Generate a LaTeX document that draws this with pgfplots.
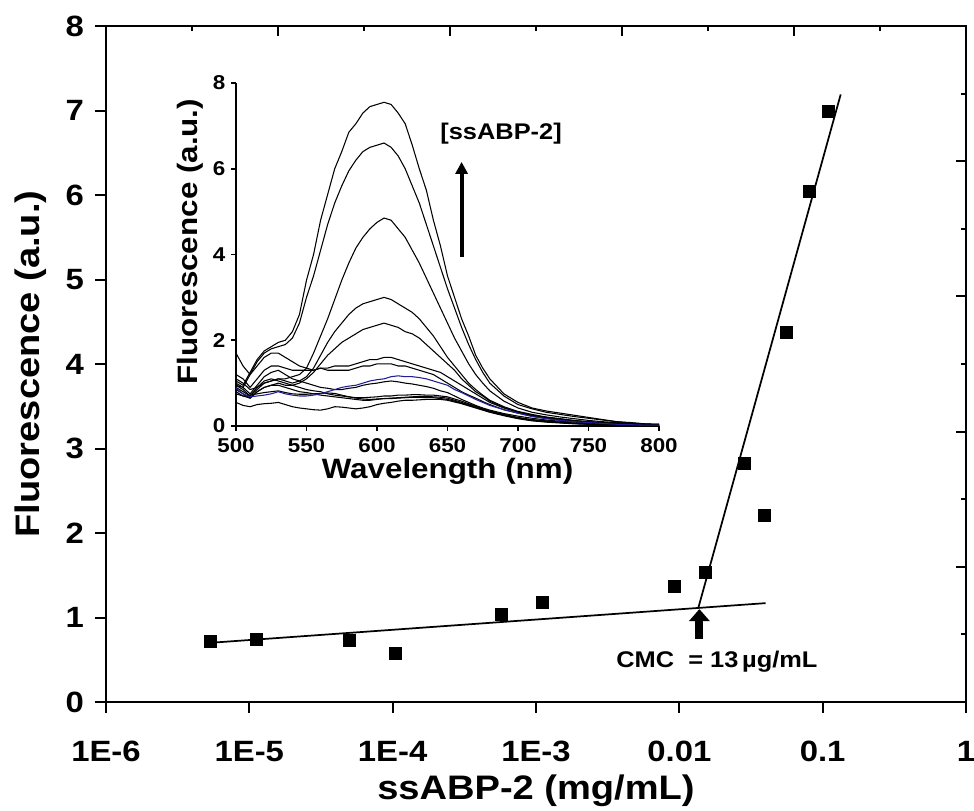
\documentclass[border=0pt]{standalone}
\usepackage{fontspec}
\setmainfont{Liberation Sans}[FakeStretch=1.12]
\usepackage{pgfplots}
\pgfplotsset{compat=1.18}
\usepackage{pgfplotstable}
\usetikzlibrary{arrows.meta}

\pgfplotstableread{
x y
5.3e-6 0.72
1.11e-5 0.74
5.0e-5 0.73
1.04e-4 0.58
5.76e-4 1.04
1.10e-3 1.18
9.2e-3 1.37
1.52e-2 1.53
2.86e-2 2.82
3.94e-2 2.21
5.56e-2 4.38
8.08e-2 6.05
1.10e-1 6.99
}\cmcdata

\pgfplotstableread{
wl c1 c2 c3 c4 c5 c6 c7 c8 c9 c10 c11 c12 blue
500 1.05 0.95 1.1 0.9 0.8 1.7 1.2 1.0 0.95 0.85 0.75 0.55 0.88
505 0.95 0.9 1.0 0.8 0.7 1.4 1.1 0.9 0.85 0.75 0.7 0.48 0.75
510 1.25 1.2 0.85 0.7 0.65 1.2 0.9 0.75 0.7 0.65 0.72 0.45 0.68
515 1.55 1.5 0.9 0.85 0.8 1.4 1.1 0.95 0.9 0.8 0.75 0.5 0.7
520 1.75 1.7 1.0 1.0 0.9 1.6 1.3 1.15 1.05 0.9 0.78 0.52 0.72
525 1.85 1.8 1.05 1.05 0.95 1.7 1.4 1.25 1.1 0.95 0.8 0.53 0.75
530 1.95 1.85 1.1 1.1 1.0 1.7 1.4 1.3 1.05 0.95 0.82 0.55 0.8
535 2.0 1.9 1.1 1.05 0.95 1.6 1.35 1.2 1.0 0.9 0.78 0.5 0.75
540 2.2 2.05 1.15 1.0 0.95 1.5 1.3 1.1 0.95 0.85 0.75 0.45 0.72
545 2.6 2.4 1.2 1.05 1.0 1.4 1.3 1.05 0.9 0.8 0.74 0.42 0.7
550 3.4 3.0 1.35 1.15 1.1 1.35 1.3 1.0 0.85 0.78 0.74 0.4 0.7
555 4.0 3.5 1.7 1.35 1.25 1.3 1.3 0.95 0.82 0.75 0.75 0.38 0.72
560 4.8 4.1 2.1 1.65 1.45 1.35 1.35 0.9 0.8 0.72 0.76 0.37 0.75
565 5.4 4.7 2.5 1.95 1.65 1.35 1.3 0.88 0.75 0.7 0.77 0.4 0.8
570 6.0 5.2 2.95 2.2 1.8 1.4 1.3 0.85 0.72 0.68 0.76 0.45 0.85
575 6.4 5.6 3.4 2.4 1.95 1.4 1.3 0.85 0.7 0.66 0.72 0.44 0.9
580 6.85 5.95 3.8 2.6 2.05 1.4 1.3 0.88 0.68 0.64 0.68 0.42 0.93
585 7.05 6.2 4.15 2.75 2.15 1.45 1.35 0.9 0.66 0.62 0.65 0.4 0.95
590 7.3 6.4 4.4 2.85 2.25 1.5 1.4 0.95 0.66 0.6 0.63 0.42 1.0
595 7.45 6.5 4.6 2.9 2.3 1.55 1.4 0.98 0.67 0.6 0.62 0.45 1.05
600 7.5 6.55 4.75 2.95 2.35 1.55 1.45 1.0 0.68 0.62 0.63 0.5 1.08
605 7.55 6.6 4.85 3.0 2.4 1.6 1.45 1.03 0.7 0.64 0.64 0.53 1.1
610 7.5 6.5 4.8 2.95 2.35 1.6 1.45 1.05 0.7 0.65 0.64 0.55 1.15
615 7.3 6.3 4.6 2.85 2.3 1.55 1.4 1.03 0.72 0.66 0.65 0.58 1.17
620 7.05 6.0 4.4 2.75 2.2 1.5 1.4 1.0 0.72 0.67 0.66 0.6 1.15
625 6.55 5.6 4.1 2.65 2.15 1.45 1.35 0.98 0.73 0.68 0.67 0.6 1.15
630 6.0 5.2 3.8 2.5 2.05 1.4 1.3 0.95 0.73 0.69 0.67 0.61 1.13
635 5.5 4.7 3.45 2.3 1.9 1.35 1.25 0.92 0.72 0.69 0.66 0.62 1.1
640 4.8 4.2 3.1 2.1 1.75 1.3 1.2 0.88 0.72 0.68 0.66 0.62 1.05
645 4.2 3.7 2.75 1.85 1.6 1.25 1.1 0.82 0.7 0.67 0.64 0.62 1.0
650 3.5 3.2 2.4 1.6 1.45 1.15 1.0 0.78 0.68 0.65 0.62 0.6 0.95
655 3.0 2.75 2.05 1.4 1.3 1.05 0.9 0.7 0.63 0.6 0.58 0.56 0.85
660 2.5 2.3 1.75 1.2 1.1 0.95 0.8 0.62 0.58 0.55 0.53 0.52 0.78
665 2.1 1.9 1.45 1.0 0.95 0.85 0.72 0.55 0.52 0.5 0.48 0.47 0.7
670 1.65 1.55 1.2 0.85 0.8 0.75 0.65 0.48 0.46 0.45 0.43 0.42 0.62
675 1.35 1.25 1.0 0.72 0.7 0.65 0.57 0.42 0.4 0.39 0.38 0.37 0.55
680 1.1 1.0 0.82 0.6 0.58 0.55 0.5 0.37 0.35 0.34 0.33 0.32 0.48
690 0.75 0.7 0.58 0.45 0.43 0.42 0.38 0.29 0.27 0.26 0.25 0.24 0.38
700 0.55 0.5 0.42 0.34 0.32 0.32 0.3 0.23 0.2 0.19 0.18 0.17 0.3
710 0.42 0.4 0.32 0.27 0.25 0.25 0.23 0.18 0.15 0.14 0.13 0.12 0.22
720 0.35 0.32 0.26 0.21 0.2 0.2 0.18 0.14 0.12 0.11 0.1 0.09 0.17
730 0.3 0.27 0.21 0.17 0.16 0.16 0.14 0.11 0.09 0.08 0.08 0.07 0.13
740 0.25 0.22 0.17 0.13 0.12 0.12 0.11 0.09 0.07 0.06 0.06 0.05 0.1
750 0.2 0.18 0.13 0.1 0.09 0.1 0.09 0.07 0.05 0.05 0.04 0.04 0.08
760 0.15 0.14 0.1 0.08 0.07 0.08 0.07 0.05 0.04 0.04 0.03 0.03 0.06
770 0.1 0.1 0.08 0.06 0.05 0.06 0.05 0.04 0.03 0.03 0.02 0.02 0.04
780 0.08 0.07 0.06 0.04 0.04 0.04 0.04 0.03 0.02 0.02 0.02 0.02 0.03
790 0.05 0.05 0.04 0.03 0.03 0.03 0.03 0.02 0.02 0.01 0.01 0.01 0.02
800 0.04 0.04 0.03 0.02 0.02 0.02 0.02 0.02 0.01 0.01 0.01 0.01 0.02
}\spectra

\begin{document}
\begin{tikzpicture}[x=1pt,y=1pt]
\path[use as bounding box] (-79.5pt,-81pt) rectangle (651pt,526.5pt);

% ---------- main axis ----------
\begin{axis}[at={(0pt,0pt)}, anchor=south west, scale only axis,
  width=645pt, height=507pt,
  xmode=log, xmin=1e-6, xmax=1, ymin=0, ymax=8,
  xtick={1e-6,1e-5,1e-4,1e-3,1e-2,1e-1,1},
  xticklabels={1E-6,1E-5,1E-4,1E-3,0.01,0.1,1},
  ytick={0,1,2,3,4,5,6,7,8},
  yticklabels={0,1,2,3,4,5,6,7,8},
  xminorticks=false, yminorticks=false,
  tick align=outside, major tick length=8pt,
  xtick pos=left, ytick pos=left,
  axis line style={line width=1.5pt},
  tick style={line width=1.5pt, black},
  ticklabel style={font=\bfseries\fontsize{22}{22}\selectfont},
  xticklabel style={yshift=-18pt},
  yticklabel style={xshift=-5pt},
  xlabel={ssABP-2 (mg/mL)}, ylabel={Fluorescence (a.u.)},
  label style={font=\bfseries\fontsize{25.5}{26}\selectfont},
  xlabel style={at={(axis description cs:0.5,-0.131)}, anchor=center},
  ylabel style={at={(axis description cs:-0.088,0.5)}, anchor=center},
  clip=false]
\addplot[black, line width=1.3pt] coordinates {(5.3e-6,0.70) (0.040,1.17)};
\addplot[black, line width=1.3pt] coordinates {(0.01355,1.11) (0.1336,7.19)};
\addplot[only marks, mark=square*, mark size=4.5pt, black] table[x=x,y=y] {\cmcdata};
\draw[line width=6pt, -{Triangle[width=15pt,length=9pt]}] (axis cs:0.0138,0.75) -- (axis cs:0.0138,1.10);
\node[font=\bfseries\fontsize{17}{17}\selectfont] at (axis cs:0.01829,0.48) {CMC\ \ = 13\,µg/mL};
\end{axis}

% minor ticks inside (bottom/left)
\begin{axis}[at={(0pt,0pt)}, anchor=south west, scale only axis,
  width=645pt, height=507pt,
  xmode=log, xmin=1e-6, xmax=1, ymin=0, ymax=8,
  axis line style={draw=none},
  xtick=\empty, ytick=\empty,
  minor xtick={2e-6,3e-6,4e-6,5e-6,6e-6,7e-6,8e-6,9e-6,
    2e-5,3e-5,4e-5,5e-5,6e-5,7e-5,8e-5,9e-5,
    2e-4,3e-4,4e-4,5e-4,6e-4,7e-4,8e-4,9e-4,
    2e-3,3e-3,4e-3,5e-3,6e-3,7e-3,8e-3,9e-3,
    2e-2,3e-2,4e-2,5e-2,6e-2,7e-2,8e-2,9e-2,
    2e-1,3e-1,4e-1,5e-1,6e-1,7e-1,8e-1,9e-1},
  minor ytick={0.5,1.5,2.5,3.5,4.5,5.5,6.5,7.5},
  tick align=inside, minor tick length=4.5pt,
  xtick pos=left, ytick pos=left,
  tick style={line width=1.5pt, black}]
\end{axis}

% top/right linked-layer ticks
\begin{axis}[at={(0pt,0pt)}, anchor=south west, scale only axis,
  width=645pt, height=507pt,
  xmin=0, xmax=10, ymin=0, ymax=10,
  axis line style={draw=none},
  xtick={0,2,4,6,8,10}, ytick={0,2,4,6,8,10},
  minor xtick={1,3,5,7,9}, minor ytick={1,3,5,7,9},
  xticklabels={}, yticklabels={},
  ticklabel style={opacity=0},
  xtick pos=right, ytick pos=right,
  tick align=inside, major tick length=7.5pt, minor tick length=3.5pt,
  tick style={line width=1.5pt, black}]
\end{axis}

% ---------- inset ----------
\begin{axis}[at={(97.5pt,207pt)}, anchor=south west, scale only axis,
  width=317.25pt, height=257.25pt,
  xmin=500, xmax=800, ymin=0, ymax=8,
  axis x line*=bottom, axis y line*=left,
  xtick={500,550,600,650,700,750,800},
  xticklabels={500,550,600,650,700,750,800},
  ytick={0,2,4,6,8}, yticklabels={0,2,4,6,8},
  xminorticks=false, yminorticks=false,
  tick align=outside, major tick length=3.5pt,
  axis line style={line width=1.2pt},
  tick style={line width=1.2pt, black},
  ticklabel style={font=\bfseries\fontsize{15}{15}\selectfont},
  xticklabel style={yshift=-2pt},
  yticklabel style={xshift=-1pt},
  xlabel={Wavelength (nm)}, ylabel={Fluorescence (a.u.)},
  label style={font=\bfseries\fontsize{21}{21}\selectfont},
  xlabel style={at={(axis description cs:0.5,-0.132)}, anchor=center},
  ylabel style={at={(axis description cs:-0.109,0.537)}, anchor=center},
  clip=false]
\foreach \c in {c12,c11,c10,c9,c8,c7,c6,c5,c4,c3,c2,c1}{
  \addplot[black, line width=0.8pt] table[x=wl,y=\c] {\spectra};
}
\addplot[color={rgb,255:red,30;green,30;blue,150}, line width=0.8pt] table[x=wl,y=blue] {\spectra};
\node[font=\bfseries\fontsize{17}{17}\selectfont] at (axis cs:688,6.81) {[ssABP-2]};
\draw[line width=3pt, -{Triangle[width=9pt,length=9pt]}] (axis cs:660,3.95) -- (axis cs:660,6.16);
\end{axis}

\begin{axis}[at={(97.5pt,207pt)}, anchor=south west, scale only axis,
  width=317.25pt, height=257.25pt,
  xmin=500, xmax=800, ymin=0, ymax=8,
  axis line style={draw=none},
  xtick=\empty, ytick=\empty,
  minor xtick={525,575,625,675,725,775},
  minor ytick={1,3,5,7},
  tick align=inside, minor tick length=3.5pt,
  xtick pos=left, ytick pos=left,
  tick style={line width=1.2pt, black}]
\end{axis}
\end{tikzpicture}
\end{document}
